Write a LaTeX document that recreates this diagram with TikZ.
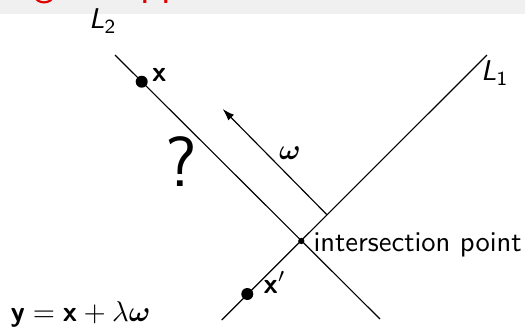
\documentclass[tikz,border=0pt]{standalone}
\usepackage{amsmath}
\usetikzlibrary{arrows.meta}
\definecolor{bandgray}{RGB}{240,240,240}
\definecolor{titlered}{RGB}{225,0,0}
\begin{document}
\begin{tikzpicture}[x=0.35pt,y=-0.35pt,
  every node/.style={font=\sffamily, inner sep=0pt},
  bigdot/.style={circle, fill=black, minimum size=12*0.35pt, inner sep=0pt},
  smalldot/.style={circle, fill=black, minimum size=2.2pt, inner sep=0pt},
  lbl/.style={anchor=base west},
  omegaarrow/.style={-{Latex[length=4.2pt,width=2.8pt]}}]
\useasboundingbox (0,0) rectangle (525,326);
% title band (cut off)
\fill[bandgray] (0,0) rectangle (525,14.3);
\begin{scope}
\clip (0,0) rectangle (525,14.3);
\node[anchor=base west, text=titlered, font=\sffamily\Large] (title) at (-70,-4.5) {Finding an approach};
\end{scope}
% lines
\coordinate (L2a) at (115,55);
\coordinate (L2b) at (380,319);
\coordinate (L1a) at (487,55);
\coordinate (L1b) at (221.7,320);
\draw (L2a) -- (L2b);
\draw (L1a) -- (L1b);
\node[smalldot] (ip) at (301.3,241) {};
\node[bigdot] (x) at (141.7,81.7) {};
\node[bigdot] (xp) at (247.3,294) {};
\coordinate (wa) at (326.7,214.5);
\coordinate (wb) at (222.7,109);
\draw[omegaarrow] (wa) -- (wb);
% labels
\node (l2) at (103,21) {\itshape L\textsubscript{\upshape 2}};
\node (l1) at (495,73) {\itshape L\textsubscript{\upshape 1}};
\node[lbl] (xl) at (151.5,81.7) {\textbf{x}};
\node[lbl] (xpl) at (263,293) {\textbf{x}$'$};
\node[lbl] (ipl) at (313,251.7) {intersection point};
\node[anchor=base, font=\sffamily\Huge] (q) at (181.7,186.7) {?};
\node (om) at (290,153.3) {$\boldsymbol{\omega}$};
\node[lbl] (eq) at (10,321.7) {$\textbf{y}=\textbf{x}+\lambda\boldsymbol{\omega}$};
\end{tikzpicture}
\end{document}
